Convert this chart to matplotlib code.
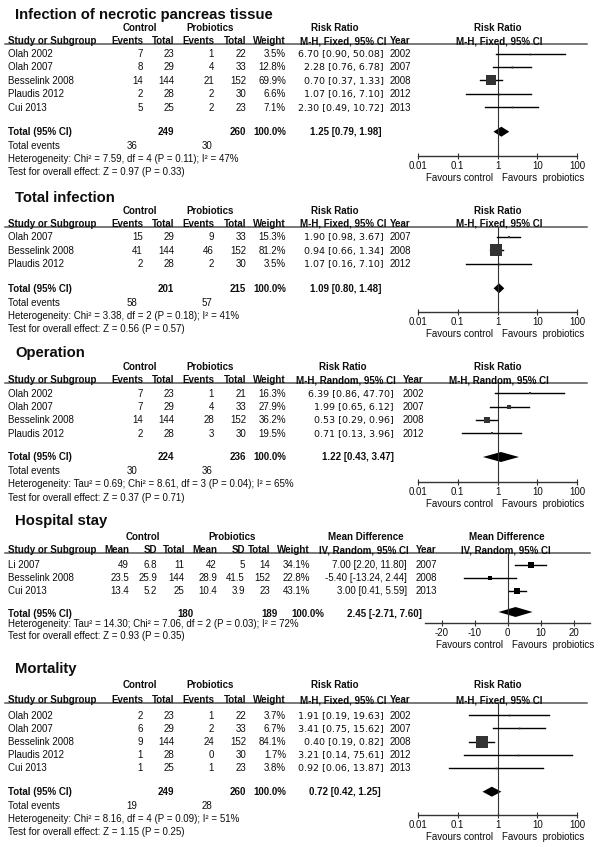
import matplotlib
matplotlib.use('Agg')
import matplotlib.pyplot as plt

plt.rcParams['font.family'] = ['Liberation Sans', 'DejaVu Sans']

# ---- data: infection of necrotic pancreas tissue
nec_studies = ['Olah 2002', 'Olah 2007', 'Besselink 2008', 'Plaudis 2012', 'Cui 2013']
nec_ctrl_ev = [7, 8, 14, 2, 5]
nec_ctrl_n = [23, 29, 144, 28, 25]
nec_pro_ev = [1, 4, 21, 2, 2]
nec_pro_n = [22, 33, 152, 30, 23]
nec_weight = [3.5, 12.8, 69.9, 6.6, 7.1]
nec_rr = [6.70, 2.28, 0.70, 1.07, 2.30]
nec_lo = [0.90, 0.76, 0.37, 0.16, 0.49]
nec_hi = [50.08, 6.78, 1.33, 7.10, 10.72]
nec_year = [2002, 2007, 2008, 2012, 2013]
nec_total = [249, 260, 36, 30]          # ctrl n, pro n, ctrl events, pro events
nec_pooled = [1.25, 0.79, 1.98]
nec_het = 'Heterogeneity: Chi² = 7.59, df = 4 (P = 0.11); I² = 47%'
nec_test = 'Test for overall effect: Z = 0.97 (P = 0.33)'

# ---- total infection
inf_studies = ['Olah 2007', 'Besselink 2008', 'Plaudis 2012']
inf_ctrl_ev = [15, 41, 2]
inf_ctrl_n = [29, 144, 28]
inf_pro_ev = [9, 46, 2]
inf_pro_n = [33, 152, 30]
inf_weight = [15.3, 81.2, 3.5]
inf_rr = [1.90, 0.94, 1.07]
inf_lo = [0.98, 0.66, 0.16]
inf_hi = [3.67, 1.34, 7.10]
inf_year = [2007, 2008, 2012]
inf_total = [201, 215, 58, 57]
inf_pooled = [1.09, 0.80, 1.48]
inf_het = 'Heterogeneity: Chi² = 3.38, df = 2 (P = 0.18); I² = 41%'
inf_test = 'Test for overall effect: Z = 0.56 (P = 0.57)'

# ---- operation
op_studies = ['Olah 2002', 'Olah 2007', 'Besselink 2008', 'Plaudis 2012']
op_ctrl_ev = [7, 7, 14, 2]
op_ctrl_n = [23, 29, 144, 28]
op_pro_ev = [1, 4, 28, 3]
op_pro_n = [21, 33, 152, 30]
op_weight = [16.3, 27.9, 36.2, 19.5]
op_rr = [6.39, 1.99, 0.53, 0.71]
op_lo = [0.86, 0.65, 0.29, 0.13]
op_hi = [47.70, 6.12, 0.96, 3.96]
op_year = [2002, 2007, 2008, 2012]
op_total = [224, 236, 30, 36]
op_pooled = [1.22, 0.43, 3.47]
op_het = 'Heterogeneity: Tau² = 0.69; Chi² = 8.61, df = 3 (P = 0.04); I² = 65%'
op_test = 'Test for overall effect: Z = 0.37 (P = 0.71)'

# ---- hospital stay (mean difference)
hs_studies = ['Li 2007', 'Besselink 2008', 'Cui 2013']
hs_ctrl_mean = [49, 23.5, 13.4]
hs_ctrl_sd = [6.8, 25.9, 5.2]
hs_ctrl_n = [11, 144, 25]
hs_pro_mean = [42, 28.9, 10.4]
hs_pro_sd = [5, 41.5, 3.9]
hs_pro_n = [14, 152, 23]
hs_weight = [34.1, 22.8, 43.1]
hs_md = [7.00, -5.40, 3.00]
hs_lo = [2.20, -13.24, 0.41]
hs_hi = [11.80, 2.44, 5.59]
hs_year = [2007, 2008, 2013]
hs_total = [180, 189]
hs_pooled = [2.45, -2.71, 7.60]
hs_het = 'Heterogeneity: Tau² = 14.30; Chi² = 7.06, df = 2 (P = 0.03); I² = 72%'
hs_test = 'Test for overall effect: Z = 0.93 (P = 0.35)'

# ---- mortality
mo_studies = ['Olah 2002', 'Olah 2007', 'Besselink 2008', 'Plaudis 2012', 'Cui 2013']
mo_ctrl_ev = [2, 6, 9, 1, 1]
mo_ctrl_n = [23, 29, 144, 28, 25]
mo_pro_ev = [1, 2, 24, 0, 1]
mo_pro_n = [22, 33, 152, 30, 23]
mo_weight = [3.7, 6.7, 84.1, 1.7, 3.8]
mo_rr = [1.91, 3.41, 0.40, 3.21, 0.92]
mo_lo = [0.19, 0.75, 0.19, 0.14, 0.06]
mo_hi = [19.63, 15.62, 0.82, 75.61, 13.87]
mo_year = [2002, 2007, 2008, 2012, 2013]
mo_total = [249, 260, 19, 28]
mo_pooled = [0.72, 0.42, 1.25]
mo_het = 'Heterogeneity: Chi² = 8.16, df = 4 (P = 0.09); I² = 51%'
mo_test = 'Test for overall effect: Z = 1.15 (P = 0.25)'

rr_ticks = [0.01, 0.1, 1, 10, 100]
rr_ticklabels = ['0.01', '0.1', '1', '10', '100']
md_ticks = [-20, -10, 0, 10, 20]
md_ticklabels = ['-20', '-10', '0', '10', '20']

W, H = 600, 847
fig = plt.figure(figsize=(6, 8.47), dpi=100)
bg = fig.add_axes([0, 0, 1, 1])
bg.set_xlim(0, W)
bg.set_ylim(H, 0)
bg.axis('off')

INK = '#0d0d0d'


def txt(x, y, s, ha='left', bold=False, size=7, family=None):
    # y is the visual centre of the text line (pixels from top)
    kw = {} if family is None else {'family': family}
    bg.text(x, y + 3.4, s, ha=ha, va='baseline', fontsize=size,
            fontweight='bold' if bold else 'normal', color=INK, **kw)


def forest(x0, x1, line_y, axis_y, est, lo, hi, rows_y, weights, pooled, tot_y,
           log=True, sq_color='#333333'):
    ax = fig.add_axes([x0 / W, 1 - axis_y / H, (x1 - x0) / W, (axis_y - line_y) / H])
    ax.patch.set_alpha(0)
    ax.set_ylim(axis_y, line_y)
    if log:
        ax.set_xscale('log')
        ax.set_xlim(0.01, 100)
        ax.set_xticks(rr_ticks)
        ax.set_xticklabels(rr_ticklabels)
        null = 1
    else:
        ax.set_xlim(-25, 25)
        ax.set_xticks(md_ticks)
        ax.set_xticklabels(md_ticklabels)
        null = 0
    ax.minorticks_off()
    ax.set_yticks([])
    for s in ['top', 'left', 'right']:
        ax.spines[s].set_visible(False)
    ax.spines['bottom'].set_color('#333333')
    ax.spines['bottom'].set_linewidth(1)
    ax.tick_params(axis='x', direction='inout', length=4.5, width=0.8,
                   labelsize=7, pad=1, colors='#333333', labelcolor=INK)
    ax.axvline(null, color='#333333', lw=0.8)

    for e, l, h, y, w in zip(est, lo, hi, rows_y, weights):
        ax.plot([l, h], [y, y], color='black', lw=1.0, clip_on=False)
        side = max(0.15 * w, 1.7) * 0.72
        ax.plot([e], [y], marker='s', ms=side, color=sq_color, mew=0, clip_on=False)
    d_est, d_lo, d_hi = pooled
    ax.fill([d_lo, d_est, d_hi, d_est], [tot_y, tot_y - 5, tot_y, tot_y + 5],
            color='black', lw=0, clip_on=False)

    ax.annotate('Favours control', xy=(null, 0), xycoords=('data', 'axes fraction'),
                xytext=(-3.6, -15.5), textcoords='offset points', ha='right',
                va='center', fontsize=7, color=INK)
    ax.annotate('Favours  probiotics', xy=(null, 0), xycoords=('data', 'axes fraction'),
                xytext=(3.6, -15.5), textcoords='offset points', ha='left',
                va='center', fontsize=7, color=INK)
    return ax


def binary_panel(title, method, studies, ce, cn, pe, pn, wt, rr, lo, hi, years,
                 total, pooled, het, test, lay):
    tb, ctrl_y, head_y, line_y, row0, step, tot_y, axis_y, ci_r, yr_r, rr_c, tci_r = lay
    bg.text(15, tb, title, fontsize=10.7, fontweight='bold', va='baseline', color=INK)
    txt(140, ctrl_y, 'Control', ha='center', bold=True)
    txt(210, ctrl_y, 'Probiotics', ha='center', bold=True)
    txt(rr_c, ctrl_y, 'Risk Ratio', ha='center', bold=True)
    txt(498, ctrl_y, 'Risk Ratio', ha='center', bold=True)

    txt(8, head_y, 'Study or Subgroup', bold=True)
    txt(143, head_y, 'Events', ha='right', bold=True)
    txt(174, head_y, 'Total', ha='right', bold=True)
    txt(214, head_y, 'Events', ha='right', bold=True)
    txt(246, head_y, 'Total', ha='right', bold=True)
    txt(286, head_y, 'Weight', ha='right', bold=True)
    txt(ci_r + 2, head_y, method, ha='right', bold=True)
    txt(yr_r, head_y, 'Year', ha='right', bold=True)
    txt(499, head_y, method, ha='center', bold=True)
    bg.plot([5, 587], [line_y, line_y], color='#555555', lw=1.1)

    rows_y = [row0 + i * step for i in range(len(studies))]
    for i, y in enumerate(rows_y):
        txt(8, y, studies[i])
        txt(143, y, str(ce[i]), ha='right')
        txt(174, y, str(cn[i]), ha='right')
        txt(214, y, str(pe[i]), ha='right')
        txt(246, y, str(pn[i]), ha='right')
        txt(286, y, f'{wt[i]:.1f}%', ha='right')
        txt(ci_r, y, f'{rr[i]:.2f} [{lo[i]:.2f}, {hi[i]:.2f}]', ha='right',
            size=6.8, family='DejaVu Sans')
        txt(yr_r, y, str(years[i]), ha='right')

    txt(8, tot_y, 'Total (95% CI)', bold=True)
    txt(174, tot_y, str(total[0]), ha='right', bold=True)
    txt(246, tot_y, str(total[1]), ha='right', bold=True)
    txt(286, tot_y, '100.0%', ha='right', bold=True)
    txt(tci_r, tot_y, f'{pooled[0]:.2f} [{pooled[1]:.2f}, {pooled[2]:.2f}]',
        ha='right', bold=True)
    txt(8, tot_y + 14, 'Total events')
    txt(137.5, tot_y + 14, str(total[2]), ha='right')
    txt(212.5, tot_y + 14, str(total[3]), ha='right')
    txt(8, tot_y + 27, het)
    txt(8, tot_y + 40.3, test)

    forest(418, 577, line_y, axis_y, rr, lo, hi, rows_y, wt, pooled, tot_y)


# layout: title baseline, control hdr, col hdr, rule, first row, row step,
#         total row, axis, ci right, year right, rr hdr centre, total ci right
binary_panel('Infection of necrotic pancreas tissue', 'M-H, Fixed, 95% CI',
             nec_studies, nec_ctrl_ev, nec_ctrl_n, nec_pro_ev, nec_pro_n, nec_weight,
             nec_rr, nec_lo, nec_hi, nec_year, nec_total, nec_pooled, nec_het, nec_test,
             (19, 27.3, 40.7, 43.8, 53.6, 13.45, 131.7, 156, 384, 411, 335, 381))
binary_panel('Total infection', 'M-H, Fixed, 95% CI',
             inf_studies, inf_ctrl_ev, inf_ctrl_n, inf_pro_ev, inf_pro_n, inf_weight,
             inf_rr, inf_lo, inf_hi, inf_year, inf_total, inf_pooled, inf_het, inf_test,
             (202, 210.7, 223.3, 226.6, 236.7, 13.5, 288.3, 312, 384, 411, 335, 381))
binary_panel('Operation', 'M-H, Random, 95% CI',
             op_studies, op_ctrl_ev, op_ctrl_n, op_pro_ev, op_pro_n, op_weight,
             op_rr, op_lo, op_hi, op_year, op_total, op_pooled, op_het, op_test,
             (356.7, 366.7, 380, 383.2, 393.3, 13.3, 457, 482, 394, 424, 343, 394))
binary_panel('Mortality', 'M-H, Fixed, 95% CI',
             mo_studies, mo_ctrl_ev, mo_ctrl_n, mo_pro_ev, mo_pro_n, mo_weight,
             mo_rr, mo_lo, mo_hi, mo_year, mo_total, mo_pooled, mo_het, mo_test,
             (672.5, 685, 700, 702.8, 715.3, 13.1, 791.7, 815, 384, 411, 335, 381))

# ---- hospital stay panel (continuous outcome)
tb, ctrl_y, head_y, line_y, row0, step, tot_y, axis_y = 525, 537, 550, 553.2, 565, 13, 614, 623
bg.text(15, tb, 'Hospital stay', fontsize=10.7, fontweight='bold', va='baseline', color=INK)
txt(143, ctrl_y, 'Control', ha='center', bold=True)
txt(232, ctrl_y, 'Probiotics', ha='center', bold=True)
txt(366, ctrl_y, 'Mean Difference', ha='center', bold=True)
txt(507, ctrl_y, 'Mean Difference', ha='center', bold=True)
txt(8, head_y, 'Study or Subgroup', bold=True)
for x, s in [(129, 'Mean'), (157, 'SD'), (185, 'Total'), (217, 'Mean'), (245, 'SD'),
             (270, 'Total'), (310, 'Weight'), (409, 'IV, Random, 95% CI'), (437, 'Year')]:
    txt(x, head_y, s, ha='right', bold=True)
txt(506, head_y, 'IV, Random, 95% CI', ha='center', bold=True)
bg.plot([5, 590], [line_y, line_y], color='#555555', lw=1.1)

hs_rows = [row0 + i * step for i in range(len(hs_studies))]
for i, y in enumerate(hs_rows):
    txt(8, y, hs_studies[i])
    txt(129, y, f'{hs_ctrl_mean[i]:g}', ha='right')
    txt(157, y, f'{hs_ctrl_sd[i]:g}', ha='right')
    txt(184, y, str(hs_ctrl_n[i]), ha='right')
    txt(217, y, f'{hs_pro_mean[i]:g}', ha='right')
    txt(245, y, f'{hs_pro_sd[i]:g}', ha='right')
    txt(270, y, str(hs_pro_n[i]), ha='right')
    txt(310, y, f'{hs_weight[i]:.1f}%', ha='right')
    txt(407, y, f'{hs_md[i]:.2f} [{hs_lo[i]:.2f}, {hs_hi[i]:.2f}]', ha='right')
    txt(437, y, str(hs_year[i]), ha='right')

txt(8, tot_y, 'Total (95% CI)', bold=True)
txt(193, tot_y, str(hs_total[0]), ha='right', bold=True)
txt(278, tot_y, str(hs_total[1]), ha='right', bold=True)
txt(324, tot_y, '100.0%', ha='right', bold=True)
txt(422, tot_y, f'{hs_pooled[0]:.2f} [{hs_pooled[1]:.2f}, {hs_pooled[2]:.2f}]',
    ha='right', bold=True)
txt(8, tot_y + 10, hs_het)
txt(8, tot_y + 22, hs_test)

forest(425, 590, line_y, axis_y, hs_md, hs_lo, hs_hi, hs_rows, hs_weight, hs_pooled,
       tot_y - 2, log=False, sq_color='black')

fig.savefig('out.png', dpi=100, facecolor='white')
